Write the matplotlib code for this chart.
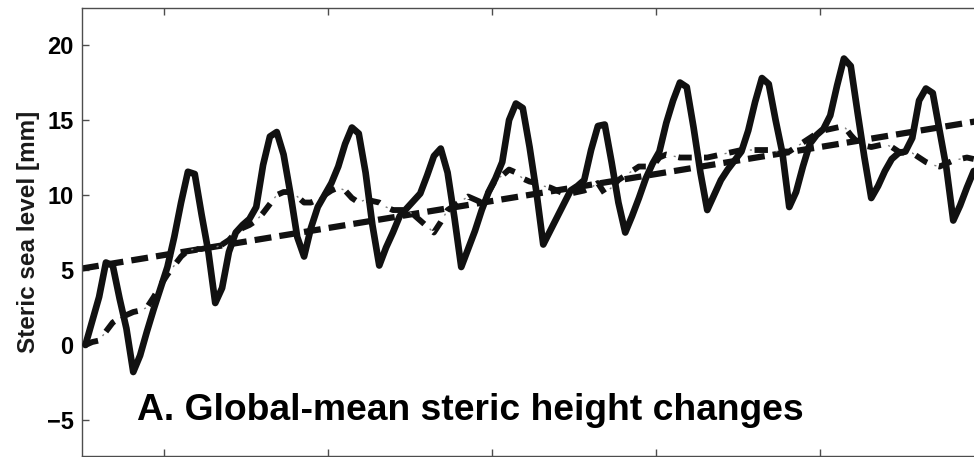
import matplotlib
matplotlib.use("Agg")
import matplotlib.pyplot as plt
import numpy as np

# monthly steric sea level [mm], month index from start of record
months = np.arange(131)
steric = [0.0, 1.6, 3.2, 5.5, 5.3, 3.1, 1.1, -1.8, -0.7, 0.9, 2.4, 3.8,
          5.2, 7.2, 9.5, 11.55, 11.4, 8.7, 6.2, 2.8, 3.8, 6.2, 7.5, 8.0,
          8.4, 9.2, 12.0, 13.9, 14.2, 12.7, 10.1, 7.2, 5.9, 7.8, 9.2, 10.0,
          10.8, 11.9, 13.4, 14.5, 14.1, 11.5, 8.0, 5.3, 6.5, 7.5, 8.6, 9.1,
          9.6, 10.1, 11.3, 12.6, 13.1, 11.5, 8.5, 5.2, 6.4, 7.6, 9.0, 10.2,
          11.1, 12.2, 15.0, 16.1, 15.8, 13.2, 10.2, 6.7, 7.6, 8.5, 9.4, 10.3,
          10.6, 11.0, 13.0, 14.6, 14.7, 12.2, 9.5, 7.5, 8.6, 9.8, 11.1, 12.1,
          12.9, 14.8, 16.3, 17.5, 17.2, 14.5, 11.5, 9.0, 10.0, 11.0, 11.7, 12.3,
          12.9, 14.3, 16.2, 17.8, 17.4, 15.0, 12.8, 9.2, 10.2, 11.9, 13.4, 14.0,
          14.4, 15.3, 17.3, 19.1, 18.6, 15.5, 12.5, 9.8, 10.6, 11.6, 12.4, 12.8,
          12.9, 13.8, 16.3, 17.1, 16.8, 14.3, 11.8, 8.3, 9.3, 10.5, 11.6]

# non-seasonal part
nonseasonal = [0.0, 0.2, 0.3, 0.9, 1.5, 1.8, 2.0, 2.2, 2.3, 2.5, 3.2, 4.0,
               4.7, 5.3, 5.9, 6.3, 6.4, 6.4, 6.5, 6.5, 6.7, 7.0, 7.5, 7.8,
               8.0, 8.3, 8.8, 9.4, 10.0, 10.2, 10.2, 9.9, 9.5, 9.5, 9.7, 10.0,
               10.3, 10.5, 10.3, 9.8, 9.5, 9.7, 9.6, 9.5, 9.2, 9.0, 9.0, 9.0,
               8.7, 8.3, 7.9, 7.5, 8.2, 9.0, 9.3, 9.6, 9.9, 9.7, 9.5, 10.2,
               11.0, 11.3, 11.7, 11.5, 11.1, 10.9, 10.8, 10.6, 10.5, 10.3, 10.1, 10.1,
               10.2, 10.3, 10.5, 10.8, 10.1, 10.5, 11.0, 11.3, 11.6, 11.9, 11.9, 11.9,
               12.5, 12.7, 12.6, 12.5, 12.5, 12.5, 12.5, 12.5, 12.6, 12.7, 12.8, 12.9,
               13.0, 13.0, 13.0, 13.0, 13.0, 12.9, 12.9, 12.9, 13.2, 13.5, 13.8, 14.1,
               14.3, 14.4, 14.5, 14.6, 14.0, 13.5, 13.3, 13.2, 13.3, 13.4, 13.2, 12.9,
               12.8, 12.8, 12.5, 12.2, 12.0, 11.9, 12.1, 12.3, 12.4, 12.5, 12.4]

# linear trend end points (years, mm)
trend_years = [0.0, 11.0]
trend_mm = [5.1, 15.0]

yticks = [-5, 0, 5, 10, 15, 20]
xticks = [1, 3, 5, 7, 9, 11]

years = (months + 0.5) / 12.0

fig = plt.figure(figsize=(9.74, 4.57), dpi=100)
ax = fig.add_axes([82 / 974, 1 / 457, 902 / 974, 448 / 457])

ax.plot(trend_years, trend_mm, color="#111111", lw=4.5,
        linestyle=(0, (2.7, 1.3)), solid_capstyle="butt", zorder=2)
ax.plot(years, nonseasonal, color="#111111", lw=4.2,
        linestyle=(0, (2.3, 2.1)), zorder=3)
ax.plot(years, nonseasonal, color="0.5", lw=1.0,
        linestyle=(4.0, (1.5, 17.0)), zorder=3)
ax.plot(years, steric, color="#111111", lw=4.8, solid_joinstyle="round",
        solid_capstyle="round", zorder=4)

ax.set_xlim(0, 11)
ax.set_ylim(-7.4, 22.47)
ax.set_xticks(xticks)
ax.set_yticks(yticks)
ax.set_xticklabels([])
ax.tick_params(direction="in", length=5, width=1, color="0.3",
               top=True, right=True, labelsize=17, pad=6)
for lab in ax.get_yticklabels():
    lab.set_fontweight("bold")
    lab.set_fontfamily("Liberation Sans")
for s in ax.spines.values():
    s.set_color("0.3")
    s.set_linewidth(1)

ax.set_ylabel("Steric sea level [mm]", fontsize=17.5, fontweight="bold",
              family="Liberation Sans", color="#1a1a1a", labelpad=5)

ax.text(0.67, -5.0, "A. Global-mean steric height changes", fontsize=26.8,
        fontweight="bold", family="Liberation Sans", va="baseline", ha="left")

fig.savefig("out.png", dpi=100)
